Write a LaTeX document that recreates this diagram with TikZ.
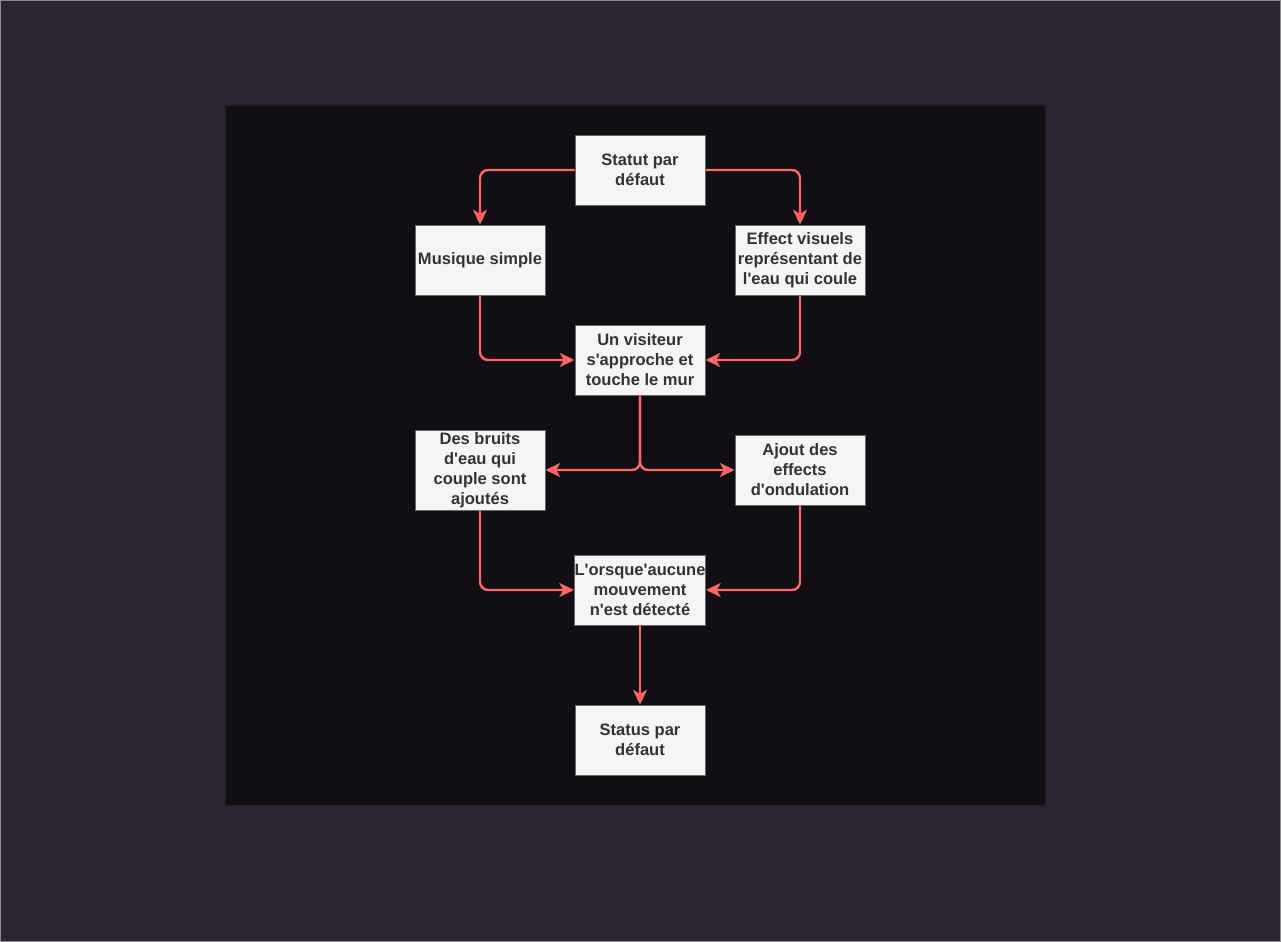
\documentclass[tikz,border=0pt]{standalone}
\usepackage{fontspec}
\setmainfont{Liberation Sans}[Ligatures=TeXOff]
\usetikzlibrary{arrows.meta}
\definecolor{outerbg}{HTML}{2A2433}
\definecolor{outerline}{HTML}{8C8C8C}
\definecolor{innerbg}{HTML}{110F14}
\definecolor{innerline}{HTML}{1F1B25}
\definecolor{boxfill}{HTML}{F5F5F5}
\definecolor{boxline}{HTML}{666666}
\definecolor{boxtext}{HTML}{333333}
\definecolor{edge}{HTML}{FF6666}
\tikzset{
  flowbox/.style={draw=boxline, fill=boxfill, line width=0.75pt, minimum width=97.5pt, minimum height=52.5pt, inner sep=0pt, align=center, text=boxtext, font=\bfseries\fontsize{12.4}{15}\selectfont},
  tallbox/.style={flowbox, minimum height=60pt},
  flow/.style={draw=edge, line width=1.8pt, rounded corners=6pt, -{Stealth[length=11pt, width=10.5pt, inset=3pt]}}
}
\begin{document}
\begin{tikzpicture}[x=0.75pt, y=-0.75pt]
\useasboundingbox (0,0) rectangle (1281,942);
\fill[outerbg] (0,0) rectangle (1281,942);
\draw[outerline, line width=1.2pt] (0.5,0.5) rectangle (1280.5,941.5);
\draw[innerline, fill=innerbg, line width=0.75pt] (225,105) rectangle (1045,805);

\node[flowbox] (s1) at (640,170) {Statut par\\défaut};
\node[flowbox] (mus) at (480,260) {Musique simple};
\node[flowbox] (eff) at (800,260) {Effect visuels\\représentant de\\l'eau qui coule};
\node[flowbox] (vis) at (640,360) {Un visiteur\\s'approche et\\touche le mur};
\node[tallbox] (bru) at (480,470) {Des bruits\\d'eau qui\\couple sont\\ajoutés};
\node[flowbox] (ajo) at (800,470) {Ajout des\\effects\\d'ondulation};
\node[flowbox] (aucun) at (640,590) {L'orsque'aucune\\mouvement\\n'est détecté};
\node[flowbox] (s2) at (640,740) {Status par\\défaut};

\draw[flow] (s1.west) -| (mus.north);
\draw[flow] (s1.east) -| (eff.north);
\draw[flow] (mus.south) |- (vis.west);
\draw[flow] (eff.south) |- (vis.east);
\draw[flow] (vis.south) |- (bru.east);
\draw[flow] (vis.south) |- (ajo.west);
\draw[flow] (bru.south) |- (aucun.west);
\draw[flow] (ajo.south) |- (aucun.east);
\draw[flow] (aucun.south) -- (s2.north);
\end{tikzpicture}
\end{document}
